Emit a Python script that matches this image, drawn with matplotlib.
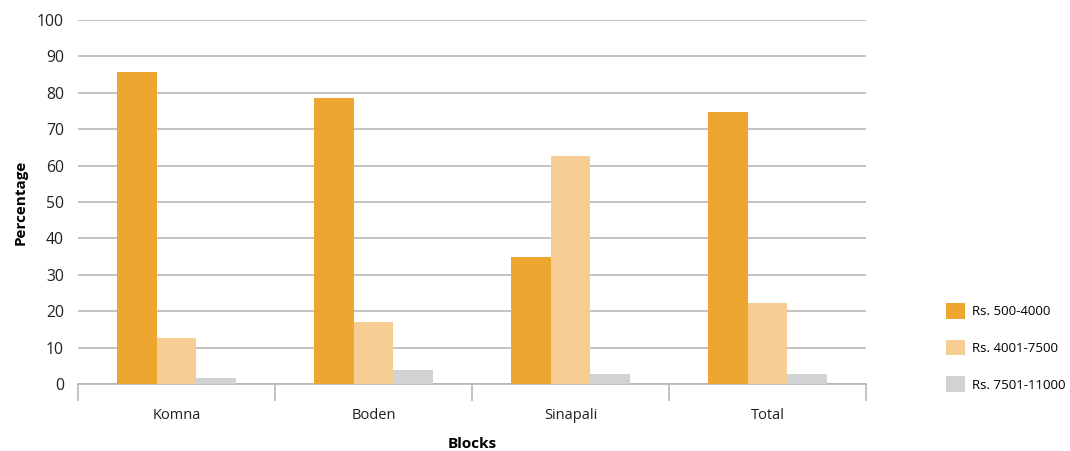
import numpy as np
import matplotlib
matplotlib.use("Agg")
import matplotlib.pyplot as plt

plt.rcParams['font.family'] = ['Open Sans', 'DejaVu Sans']

# data
blocks = ['Komna', 'Boden', 'Sinapali', 'Total']
series = ['Rs. 500-4000', 'Rs. 4001-7500', 'Rs. 7501-11000']
low = [85.7, 78.6, 34.9, 74.7]
mid = [12.7, 17.0, 62.6, 22.3]
high = [1.7, 3.8, 2.7, 2.7]
colors = ['#EDA731', '#F6CE94', '#D1D2D4']

fig = plt.figure(figsize=(10.7, 4.51), dpi=100)
ax = fig.add_axes([78/1070, 1-384/451, (866-78)/1070, (384-20)/451])

x = np.arange(len(blocks))
w = 0.2
for i, (vals, lab) in enumerate(zip([low, mid, high], series)):
    ax.bar(x + (i-1)*w, vals, w, color=colors[i], label=lab, zorder=3)

ax.set_xlim(-0.5, len(blocks)-0.5)
ax.set_ylim(0, 100)
ax.set_yticks(range(0, 101, 10))
ax.yaxis.grid(True, color='#b3b3b3', linewidth=1.1, zorder=0)
ax.tick_params(axis='y', length=0, labelsize=11.3, pad=10, colors='#231f20')

# category separators below the axis
ax.set_xticks(np.arange(-0.5, len(blocks)), minor=False)
ax.set_xticklabels([])
ax.tick_params(axis='x', which='major', length=12, width=1.1, color='#b3b3b3')
ax.set_xticks(x, minor=True)
ax.set_xticklabels(blocks, minor=True)
ax.tick_params(axis='x', which='minor', length=0, labelsize=10.5, pad=17, colors='#231f20')

for s in ['top', 'right', 'left']:
    ax.spines[s].set_visible(False)
ax.spines['bottom'].set_color('#b3b3b3')
ax.spines['bottom'].set_linewidth(1.1)

ax.set_xlabel('Blocks', fontweight='bold', fontsize=11, labelpad=10)
ax.set_ylabel('Percentage', fontweight='bold', fontsize=11, labelpad=7)

fig.legend(loc='upper left', bbox_to_anchor=(934/1070, 1-291/451), frameon=False,
           fontsize=9.5, handlelength=1.45, handleheight=1.45, labelspacing=1.6,
           handletextpad=0.5)

fig.savefig('out.png', dpi=100)
